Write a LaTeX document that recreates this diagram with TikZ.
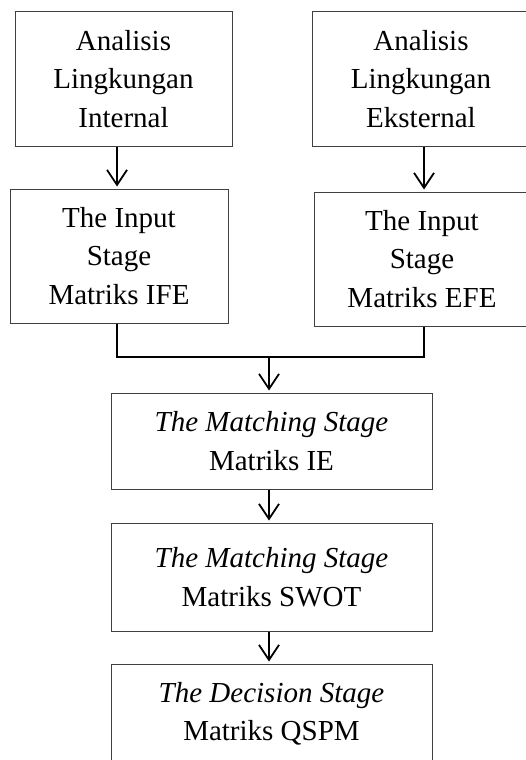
\documentclass[tikz,border=0pt]{standalone}
\usepackage{fontspec}
\setmainfont{Liberation Serif}
\usetikzlibrary{arrows.meta}
\begin{document}
\begin{tikzpicture}[x=1pt,y=-1pt,
  box/.style={draw=black!75, line width=1pt, align=center, inner sep=0pt,
    font=\fontsize{29}{38.5}\selectfont},
  conn/.style={line width=1.8pt, black},
  arr/.style={conn, -{Straight Barb[length=15pt,width=20pt,line width=1.8pt]}, shorten >=2pt}]
\useasboundingbox (0,0) rectangle (525,760);
\node[box, minimum width=217pt, minimum height=134pt] (b1) at (123.5,79) {Analisis\\Lingkungan\\Internal};
\node[box, minimum width=218pt, minimum height=134pt] (b2) at (421,79) {Analisis\\Lingkungan\\Eksternal};
\node[box, minimum width=218pt, minimum height=134pt] (b3) at (119,256) {The Input\\Stage\\Matriks IFE};
\node[box, minimum width=216pt, minimum height=134pt] (b4) at (422,259) {The Input\\Stage\\Matriks EFE};
\node[box, minimum width=321pt, minimum height=96pt] (b5) at (271.5,441) {\textit{The Matching Stage}\\Matriks IE};
\node[box, minimum width=321pt, minimum height=108pt] (b6) at (271.5,577) {\textit{The Matching Stage}\\Matriks SWOT};
\node[box, minimum width=321pt, minimum height=100pt] (b7) at (271.5,714) {\textit{The Decision Stage}\\Matriks QSPM};
\coordinate (j1) at (117,357);
\coordinate (j2) at (424,357);
\coordinate (jm) at (269,357);
\draw[arr] ([xshift=-6.5pt]b1.south) -- ([xshift=-6.5pt]b1.south |- b3.north);
\draw[arr] ([xshift=3pt]b2.south) -- ([xshift=3pt]b2.south |- b4.north);
\draw[conn] (b3.south -| j1) -- (j1) -- (j2) -- (b4.south -| j2);
\draw[arr] (jm) -- (jm |- b5.north);
\draw[arr] (b5.south -| jm) -- (jm |- b6.north);
\draw[arr] (b6.south -| jm) -- (jm |- b7.north);
\end{tikzpicture}
\end{document}
